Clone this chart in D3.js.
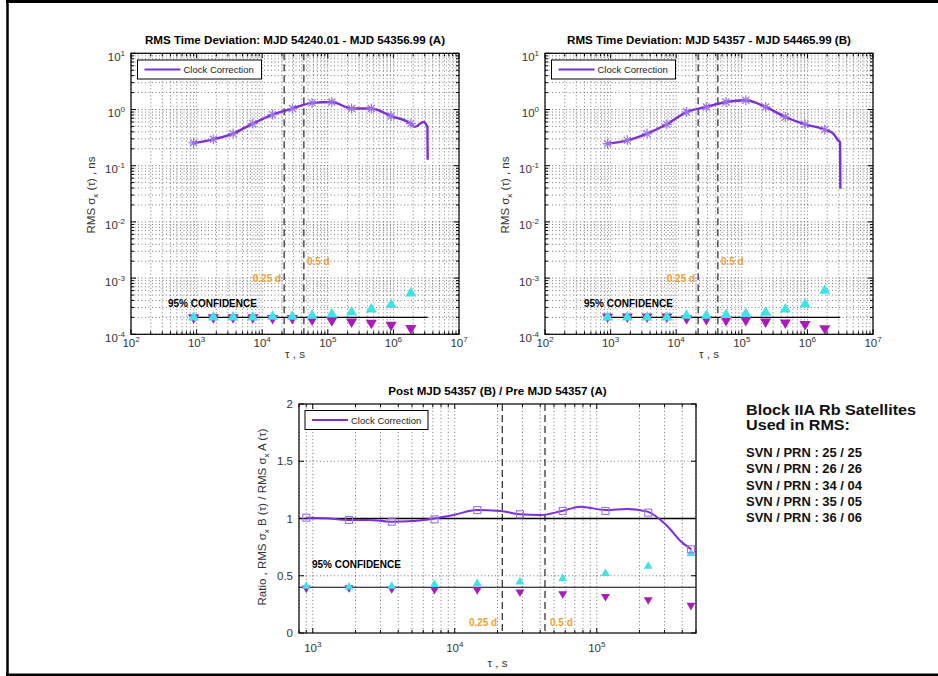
<!DOCTYPE html>
<html>
<head>
<meta charset="utf-8">
<script src="https://cdn.jsdelivr.net/npm/d3@7"></script>
<style>
body { margin: 0; background: #fff; }
svg text { font-family: "Liberation Sans", Arial, sans-serif; }
</style>
</head>
<body>
<div id="chart"></div>
<script>
(function () {

// averaging times (octaves of the 900 s sample), s
const tauOct = [900, 1800, 3600, 7200, 14400, 28800, 57600, 115200, 230400, 460800, 921600, 1843200];

// RMS time deviation, ns  (A = pre MJD 54357, B = post)
const devA = [0.254, 0.295, 0.373, 0.561, 0.811, 1.04, 1.31, 1.36, 1.04, 1.04, 0.766, 0.561];
const devB = [0.247, 0.283, 0.373, 0.545, 0.903, 1.11, 1.36, 1.46, 1.11, 0.736, 0.545, 0.439];
// end of the curves past the last marker
const tailTauA = [2.13e6, 2.86e6, 3.3e6, 3.33e6];
const tailValA = [0.49, 0.60, 0.49, 0.128];
const tailTauB = [2.48e6, 2.95e6, 3.15e6, 3.18e6];
const tailValB = [0.373, 0.28, 0.26, 0.039];

// 95% confidence markers, ns
const upA   = [2.14e-4, 2.14e-4, 2.14e-4, 2.14e-4, 2.2e-4, 2.2e-4, 2.3e-4, 2.42e-4, 2.63e-4, 2.97e-4, 3.56e-4, 5.73e-4];
const downA = [1.88e-4, 1.88e-4, 1.88e-4, 1.88e-4, 1.82e-4, 1.82e-4, 1.7e-4, 1.65e-4, 1.58e-4, 1.5e-4, 1.38e-4, 1.2e-4];
const upB   = [2.14e-4, 2.14e-4, 2.14e-4, 2.14e-4, 2.3e-4, 2.3e-4, 2.36e-4, 2.46e-4, 2.6e-4, 2.97e-4, 3.65e-4, 6.4e-4];
const downB = [1.93e-4, 1.93e-4, 1.93e-4, 1.93e-4, 1.8e-4, 1.75e-4, 1.67e-4, 1.67e-4, 1.57e-4, 1.51e-4, 1.42e-4, 1.19e-4];
const confLevel = 2e-4;
const confEndA = 3.33e6, confEndB = 3.18e6;

// ratio B / A
const ratioTau = tauOct.slice(0, 10);
const ratioVal = [1.007, 0.987, 0.972, 0.993, 1.074, 1.037, 1.066, 1.066, 1.051, 0.731];
const ratioLineTau = [900, 1250, 1770, 2500, 3550, 5100, 7100, 9800, 14300, 20900, 28600, 40200, 57100, 77000, 116000, 164000, 228000, 299000, 317000, 394000, 463000];
const ratioLineVal = [1.007, 1.002, 0.987, 0.987, 0.972, 0.978, 1.0, 1.031, 1.074, 1.066, 1.037, 1.031, 1.066, 1.103, 1.074, 1.083, 1.06, 0.958, 0.928, 0.797, 0.731];
const ratioUp   = [0.419, 0.413, 0.419, 0.434, 0.443, 0.457, 0.486, 0.530, 0.594, 0.705];
const ratioDown = [0.382, 0.384, 0.376, 0.369, 0.367, 0.347, 0.332, 0.308, 0.279, 0.230];
const ratioConf = 0.40;

// quarter and half day markers, s
const dayMarks = [21600, 43200];
const dayLabels = ["0.25 d", "0.5 d"];

const satTitle = ["Block IIA Rb Satellites", "Used in RMS:"];
const satLines = ["SVN / PRN : 25 / 25", "SVN / PRN : 26 / 26", "SVN / PRN : 34 / 04", "SVN / PRN : 35 / 05", "SVN / PRN : 36 / 06"];

const purple = "#7b2fd9", lavender = "#9d72e2", cyan = "#3fe3e6", magenta = "#a81cb8", orange = "#f0a030";

const svg = d3.select("#chart").append("svg")
    .attr("width", 938)
    .attr("height", 676);

// figure frame
svg.append("line").attr("x1", 6).attr("x2", 938).attr("y1", 1.5).attr("y2", 1.5).attr("stroke", "#000").attr("stroke-width", 3);
svg.append("line").attr("x1", 7.5).attr("x2", 7.5).attr("y1", 0).attr("y2", 676).attr("stroke", "#000").attr("stroke-width", 2.5);
svg.append("line").attr("x1", 6).attr("x2", 938).attr("y1", 674.8).attr("y2", 674.8).attr("stroke", "#000").attr("stroke-width", 2.5);

const isPow = v => Math.abs(Math.log10(v) - Math.round(Math.log10(v))) < 1e-9;

function supLabel(sel, base, exp) {
  sel.append("tspan").text(base);
  sel.append("tspan").attr("dy", -5).attr("font-size", 8).text(exp);
}

function panel(p) {
  const x = d3.scaleLog().domain(p.xDomain).range([p.left, p.right]);
  const y = p.ylog ? d3.scaleLog().domain(p.yDomain).range([p.bottom, p.top])
                   : d3.scaleLinear().domain(p.yDomain).range([p.bottom, p.top]);
  const g = svg.append("g");

  g.append("rect").attr("x", p.left).attr("y", p.top)
    .attr("width", p.right - p.left).attr("height", p.bottom - p.top).attr("fill", "#fff");

  const xt = x.ticks().filter(v => v >= p.xDomain[0] * 0.999 && v <= p.xDomain[1] * 1.001);
  const yt = p.ylog ? y.ticks() : p.yTicks;
  const yGrid = p.ylog ? yt : p.yTicks.filter(v => v > p.yDomain[0] && v < p.yDomain[1]);

  // dotted grid
  g.selectAll(".gx").data(xt).join("line")
    .attr("x1", d => x(d)).attr("x2", d => x(d)).attr("y1", p.top).attr("y2", p.bottom)
    .attr("stroke", "#222").attr("stroke-width", 0.8).attr("stroke-dasharray", "1,2.5").attr("opacity", 0.75);
  g.selectAll(".gy").data(yGrid).join("line")
    .attr("x1", p.left).attr("x2", p.right).attr("y1", d => y(d)).attr("y2", d => y(d))
    .attr("stroke", "#222").attr("stroke-width", 0.8).attr("stroke-dasharray", "1,2.5").attr("opacity", 0.75);

  // inward ticks, both sides
  xt.forEach(v => {
    const len = isPow(v) ? 5 : 3;
    g.append("line").attr("x1", x(v)).attr("x2", x(v)).attr("y1", p.bottom).attr("y2", p.bottom - len).attr("stroke", "#000");
    g.append("line").attr("x1", x(v)).attr("x2", x(v)).attr("y1", p.top).attr("y2", p.top + len).attr("stroke", "#000");
  });
  yt.forEach(v => {
    const len = (!p.ylog || isPow(v)) ? 5 : 3;
    g.append("line").attr("y1", y(v)).attr("y2", y(v)).attr("x1", p.left).attr("x2", p.left + len).attr("stroke", "#000");
    g.append("line").attr("y1", y(v)).attr("y2", y(v)).attr("x1", p.right).attr("x2", p.right - len).attr("stroke", "#000");
  });

  // tick labels
  xt.filter(isPow).forEach(v => {
    const t = g.append("text").attr("x", x(v)).attr("y", p.bottom + p.xLabelGap)
      .attr("text-anchor", "middle").attr("font-size", 11.5).attr("fill", "#333");
    supLabel(t, "10", String(Math.round(Math.log10(v))));
  });
  yt.filter(v => !p.ylog || isPow(v)).forEach(v => {
    const t = g.append("text").attr("x", p.left - 6).attr("text-anchor", "end")
      .attr("font-size", 11.5).attr("fill", "#333");
    if (p.ylog) {
      t.attr("y", y(v) + 7.5);
      supLabel(t, "10", String(Math.round(Math.log10(v))));
    } else {
      t.attr("y", y(v) + 4).text(String(v));
    }
  });

  // title and axis labels
  g.append("text").attr("x", (p.left + p.right) / 2).attr("y", p.top - 9)
    .attr("text-anchor", "middle").attr("font-size", 11.6).attr("font-weight", "bold").text(p.title);
  const xl = g.append("text").attr("x", (p.left + p.right) / 2).attr("y", p.bottom + p.xTitleGap)
    .attr("text-anchor", "middle").attr("font-size", 11.5).attr("fill", "#333");
  xl.text("τ , s");

  const yl = g.append("text")
    .attr("transform", "translate(" + p.yTitleX + "," + p.yTitleY + ") rotate(-90)")
    .attr("text-anchor", "middle").attr("font-size", 11.5).attr("fill", "#333");
  p.yTitle.forEach(part => {
    if (part.sub) {
      yl.append("tspan").attr("dy", 3).attr("font-size", 8).text(part.sub);
      yl.append("tspan").attr("dy", -3).text(part.t);
    } else {
      yl.append("tspan").text(part.t);
    }
  });

  return {g, x, y};
}

function dayLines(P, p, labelYs, pad) {
  dayMarks.forEach((d, i) => {
    P.g.append("line").attr("x1", P.x(d)).attr("x2", P.x(d)).attr("y1", p.top).attr("y2", p.bottom)
      .attr("stroke", "#111").attr("stroke-width", 1.1).attr("stroke-dasharray", "7,4");
    P.g.append("text")
      .attr("x", i === 0 ? P.x(d) - pad : P.x(d) + pad)
      .attr("y", labelYs[i])
      .attr("text-anchor", i === 0 ? "end" : "start")
      .attr("font-size", 10).attr("font-weight", "bold").attr("fill", orange)
      .text(dayLabels[i]);
  });
}

function triangle(s, up) {
  const h = 9.5 * s, w = 5.6 * s;
  return up ? `M0,${-h / 2}L${w},${h / 2}L${-w},${h / 2}Z` : `M0,${h / 2}L${w},${-h / 2}L${-w},${-h / 2}Z`;
}
const asterisk = r => `M${-r},0H${r}M0,${-r}V${r}M${-r * 0.7},${-r * 0.7}L${r * 0.7},${r * 0.7}M${-r * 0.7},${r * 0.7}L${r * 0.7},${-r * 0.7}`;

function legend(P, x0, y0, w) {
  P.g.append("rect").attr("x", x0).attr("y", y0).attr("width", w).attr("height", 19)
    .attr("fill", "#fff").attr("stroke", "#000").attr("stroke-width", 1);
  P.g.append("line").attr("x1", x0 + 7).attr("x2", x0 + 43).attr("y1", y0 + 9.5).attr("y2", y0 + 9.5)
    .attr("stroke", purple).attr("stroke-width", 2);
  P.g.append("text").attr("x", x0 + 46).attr("y", y0 + 13).attr("font-size", 9.5).attr("fill", "#222")
    .text("Clock Correction");
}

function devPanel(p, dev, tailTau, tailVal, up, down, confEnd) {
  const P = panel(p);
  dayLines(P, p, [282, 265], 3);

  // confidence level
  P.g.append("line").attr("x1", P.x(tauOct[0])).attr("x2", P.x(confEnd))
    .attr("y1", P.y(confLevel)).attr("y2", P.y(confLevel)).attr("stroke", "#000").attr("stroke-width", 1.2);
  P.g.append("text").attr("x", p.confX).attr("y", 307).attr("font-size", 10).attr("font-weight", "bold")
    .text("95% CONFIDENCE");

  P.g.selectAll(".dn").data(down).join("path")
    .attr("transform", (d, i) => "translate(" + P.x(tauOct[i]) + "," + P.y(d) + ")")
    .attr("d", triangle(1, false)).attr("fill", magenta);
  P.g.selectAll(".up").data(up).join("path")
    .attr("transform", (d, i) => "translate(" + P.x(tauOct[i]) + "," + P.y(d) + ")")
    .attr("d", triangle(1, true)).attr("fill", cyan);

  const pts = tauOct.map((t, i) => [t, dev[i]]).concat(tailTau.map((t, i) => [t, tailVal[i]]));
  P.g.append("path").datum(pts)
    .attr("d", d3.line().x(d => P.x(d[0])).y(d => P.y(d[1])).curve(d3.curveMonotoneX))
    .attr("fill", "none").attr("stroke", purple).attr("stroke-width", 2.4);
  P.g.selectAll(".ast").data(dev).join("path")
    .attr("transform", (d, i) => "translate(" + P.x(tauOct[i]) + "," + P.y(d) + ")")
    .attr("d", asterisk(5)).attr("fill", "none").attr("stroke", lavender).attr("stroke-width", 1.2);

  legend(P, p.left + 6.5, 60, 124);
  P.g.append("rect").attr("x", p.left).attr("y", p.top).attr("width", p.right - p.left).attr("height", p.bottom - p.top)
    .attr("fill", "none").attr("stroke", "#000").attr("stroke-width", 1.2);
}

const yTitleTop = [{t: "RMS σ"}, {sub: "x", t: " (τ) , ns"}];

devPanel({left: 131, right: 459, top: 53.3, bottom: 334.3, xDomain: [1e2, 1e7], yDomain: [1e-4, 1e1], ylog: true,
  xLabelGap: 12.5, xTitleGap: 24, yTitleX: 95, yTitleY: 195, yTitle: yTitleTop, confX: 168,
  title: "RMS Time Deviation: MJD 54240.01 - MJD 54356.99 (A)"},
  devA, tailTauA, tailValA, upA, downA, confEndA);

devPanel({left: 545, right: 873, top: 53.3, bottom: 334.3, xDomain: [1e2, 1e7], yDomain: [1e-4, 1e1], ylog: true,
  xLabelGap: 12.5, xTitleGap: 24, yTitleX: 509, yTitleY: 195, yTitle: yTitleTop, confX: 584,
  title: "RMS Time Deviation: MJD 54357 - MJD 54465.99 (B)"},
  devB, tailTauB, tailValB, upB, downB, confEndB);

// ratio panel
const pr = {left: 299, right: 696, top: 404, bottom: 633, xDomain: [800, 5e5], yDomain: [0, 2], ylog: false,
  yTicks: [0, 0.5, 1, 1.5, 2], xLabelGap: 18.5, xTitleGap: 34, yTitleX: 266, yTitleY: 517,
  yTitle: [{t: "Ratio , RMS σ"}, {sub: "x", t: " B (τ) / RMS σ"}, {sub: "x", t: " A (τ)"}],
  title: "Post MJD 54357 (B) / Pre MJD 54357 (A)"};
const R = panel(pr);
dayLines(R, pr, [626, 626], 5);
[1, ratioConf].forEach(v => {
  R.g.append("line").attr("x1", pr.left).attr("x2", pr.right).attr("y1", R.y(v)).attr("y2", R.y(v))
    .attr("stroke", "#000").attr("stroke-width", v === 1 ? 1.5 : 1.1);
});
R.g.append("text").attr("x", 312).attr("y", 568).attr("font-size", 10).attr("font-weight", "bold").text("95% CONFIDENCE");
R.g.selectAll(".dn").data(ratioDown).join("path")
  .attr("transform", (d, i) => "translate(" + R.x(ratioTau[i]) + "," + R.y(d) + ")")
  .attr("d", triangle(0.8, false)).attr("fill", magenta);
R.g.selectAll(".up").data(ratioUp).join("path")
  .attr("transform", (d, i) => "translate(" + R.x(ratioTau[i]) + "," + R.y(d) + ")")
  .attr("d", triangle(0.8, true)).attr("fill", cyan);
R.g.append("path").datum(ratioLineTau.map((t, i) => [t, ratioLineVal[i]]))
  .attr("d", d3.line().x(d => R.x(d[0])).y(d => R.y(d[1])).curve(d3.curveMonotoneX))
  .attr("fill", "none").attr("stroke", purple).attr("stroke-width", 2);
R.g.selectAll(".sq").data(ratioVal).join("rect")
  .attr("x", (d, i) => R.x(ratioTau[i]) - 3.5).attr("y", d => R.y(d) - 3.5)
  .attr("width", 7).attr("height", 7).attr("fill", "none").attr("stroke", lavender).attr("stroke-width", 1.1);
legend(R, 305, 410.5, 123);
R.g.append("rect").attr("x", pr.left).attr("y", pr.top).attr("width", pr.right - pr.left).attr("height", pr.bottom - pr.top)
  .attr("fill", "none").attr("stroke", "#000").attr("stroke-width", 1.2);

// satellite list
const info = svg.append("g").attr("fill", "#111").attr("font-weight", "bold");
satTitle.forEach((s, i) => {
  info.append("text").attr("x", 746).attr("y", 414.5 + i * 15.5).attr("font-size", 14.5)
    .attr("textLength", i === 0 ? 170 : 104).attr("lengthAdjust", "spacingAndGlyphs").text(s);
});
satLines.forEach((s, i) => {
  info.append("text").attr("x", 746).attr("y", 457 + i * 16.3).attr("font-size", 12)
    .attr("textLength", 116).attr("lengthAdjust", "spacingAndGlyphs").text(s);
});

})();
</script>
</body>
</html>
